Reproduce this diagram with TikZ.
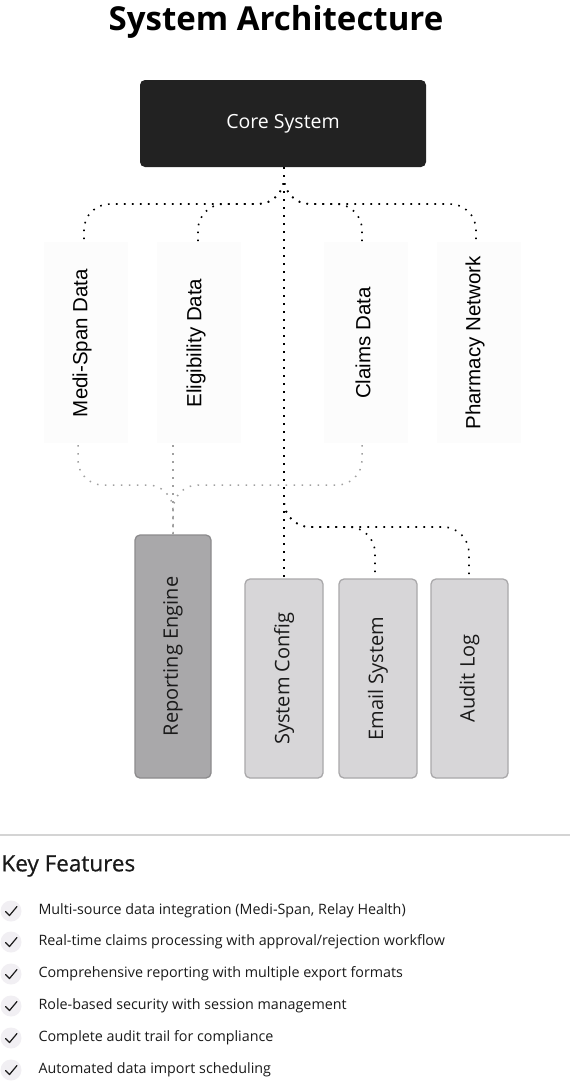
\documentclass[tikz,border=0pt]{standalone}
\usepackage{fontspec}
\setmainfont{Open Sans}
\newfontfamily\arialf{Liberation Sans}
\newfontfamily\medf[FakeBold=0.6]{Open Sans}
\usetikzlibrary{calc}
\definecolor{coredark}{HTML}{222222}
\definecolor{repfill}{HTML}{A9A8AA}
\definecolor{repdraw}{HTML}{8C8B8D}
\definecolor{lightfill}{HTML}{D7D6D8}
\definecolor{lightdraw}{HTML}{A9A8AA}
\definecolor{datafill}{HTML}{FCFCFC}
\definecolor{sepline}{HTML}{D4D4D4}
\definecolor{checkbg}{HTML}{F1EFF3}
\definecolor{textdark}{HTML}{1A1A1A}
\definecolor{lowconn}{HTML}{A0A0A0}
\tikzset{
  corebox/.style={draw=none, fill=coredark, rounded corners=5pt, text=white, font=\fontsize{19.5}{19.5}\selectfont},
  databox/.style={draw=none, fill=datafill, minimum width=84pt, minimum height=201pt, inner sep=0pt},
  datalabel/.style={rotate=90, text=black, font=\arialf\fontsize{20.5}{20.5}\selectfont},
  repbox/.style={draw=repdraw, fill=repfill, line width=1.3pt, rounded corners=5pt, inner sep=0pt},
  lightbox/.style={draw=lightdraw, fill=lightfill, line width=1.3pt, rounded corners=5pt, inner sep=0pt},
  boxlabel/.style={rotate=90, text=textdark, font=\fontsize{20}{20}\selectfont},
  conn/.style={draw=black, line width=1.6pt, dash pattern=on 1.6pt off 6.4pt, rounded corners=26pt},
  lconn/.style={draw=lowconn, line width=1.5pt, dash pattern=on 1.5pt off 6.5pt, rounded corners=25pt},
  feat/.style={anchor=west, text=textdark, font=\fontsize{14.3}{14.3}\selectfont},
  checkcirc/.style={circle, fill=checkbg, minimum size=21pt, inner sep=0pt},
  checkmk/.style={draw=textdark, line width=1.2pt, line cap=round, line join=round}
}
\begin{document}
\begin{tikzpicture}[x=1pt,y=-1pt]
\useasboundingbox (0,0) rectangle (570,1082);
\fill[white] (0,0) rectangle (570,1082);

% title
\node[font=\bfseries\fontsize{33}{33}\selectfont, text=black] (title) at (276,22) {System Architecture};

% core
\node[corebox, minimum width=286pt, minimum height=87pt] (core) at (283,123.5) {Core System};

% data boxes
\node[databox] (msd) at (85.5,342.5) {};
\node[datalabel] (msdl) at (82,343) {Medi-Span Data};
\node[databox] (elig) at (198.5,342.5) {};
\node[datalabel] (eligl) at (196,343) {Eligibility Data};
\node[databox] (claims) at (365.5,342.5) {};
\node[datalabel] (claimsl) at (363,343) {Claims Data};
\node[databox] (pharm) at (478.5,342.5) {};
\node[datalabel] (pharml) at (475,343) {Pharmacy Network};

% bottom boxes
\node[repbox, minimum width=76pt, minimum height=243pt] (rep) at (173,656.5) {};
\node[boxlabel] (repl) at (rep.center) {Reporting Engine};
\node[lightbox, minimum width=78pt, minimum height=199pt] (sys) at (284,678.5) {};
\node[boxlabel] (sysl) at (sys.center) {System Config};
\node[lightbox, minimum width=78pt, minimum height=199pt] (email) at (378,678.5) {};
\node[boxlabel] (emaill) at (email.center) {Email System};
\node[lightbox, minimum width=77pt, minimum height=199pt] (audit) at (469.5,678.5) {};
\node[boxlabel] (auditl) at (audit.center) {Audit Log};

% helper coordinates
\coordinate (top) at ($(core.south)+(1,0)$);
\coordinate (hA) at (0,204);
\coordinate (hB) at (0,527);
\coordinate (hC) at (0,485);
\coordinate (msdt) at ($(msd.north)+(-1.5,0)$);
\coordinate (eligt) at ($(elig.north)+(-0.5,0)$);
\coordinate (claimst) at ($(claims.north)+(-3.5,0)$);
\coordinate (pharmt) at ($(pharm.north)+(-2.5,0)$);
\coordinate (emailt) at ($(email.north)+(-3,0)$);
\coordinate (auditt) at ($(audit.north)+(-0.5,0)$);

% connectors core -> data
\draw[conn] (top) -- (top |- hA) -- (msdt |- hA) -- (msdt);
\draw[conn] (top) -- (top |- hA) -- (eligt |- hA) -- (eligt);
\draw[conn] (top) -- (top |- hA) -- (claimst |- hA) -- (claimst);
\draw[conn] (top) -- (top |- hA) -- (pharmt |- hA) -- (pharmt);

% core -> system config / email / audit
\draw[conn] (top) -- (top |- sys.north);
\draw[conn] (top) -- (top |- hB) -- (emailt |- hB) -- (emailt);
\draw[conn] (top) -- (top |- hB) -- (auditt |- hB) -- (auditt);

% data -> reporting
\coordinate (msdb) at ($(msd.south)+(-7.5,2)$);
\coordinate (eligb) at ($(rep.north |- elig.south)+(0,2)$);
\coordinate (claimsb) at ($(claims.south)+(-3.5,2)$);
\draw[lconn] (msdb) -- (msdb |- hC) -- (rep.north |- hC) -- (rep.north);
\draw[lconn] (eligb) -- (rep.north);
\draw[lconn] (claimsb) -- (claimsb |- hC) -- (rep.north |- hC) -- (rep.north);

% separator
\draw[sepline, line width=1.5pt] (0,835) -- (570,835);

% key features
\node[anchor=west, text=textdark, font=\medf\fontsize{22.5}{22.5}\selectfont] (kf) at (-2,866) {Key Features};

\foreach \yy/\txt [count=\i] in {911/{Multi-source data integration (Medi-Span, Relay Health)},
  942/{Real-time claims processing with approval/rejection workflow},
  974/{Comprehensive reporting with multiple export formats},
  1006/{Role-based security with session management},
  1038/{Complete audit trail for compliance},
  1070/{Automated data import scheduling}} {
  \node[checkcirc] (c\i) at (11,\yy) {};
  \draw[checkmk] ($(c\i.center)+(-5.5,0.5)$) -- ($(c\i.center)+(-1.5,4.5)$) -- ($(c\i.center)+(6,-4.5)$);
  \node[feat] (f\i) at (35,\yy) {\txt};
}
\end{tikzpicture}
\end{document}
